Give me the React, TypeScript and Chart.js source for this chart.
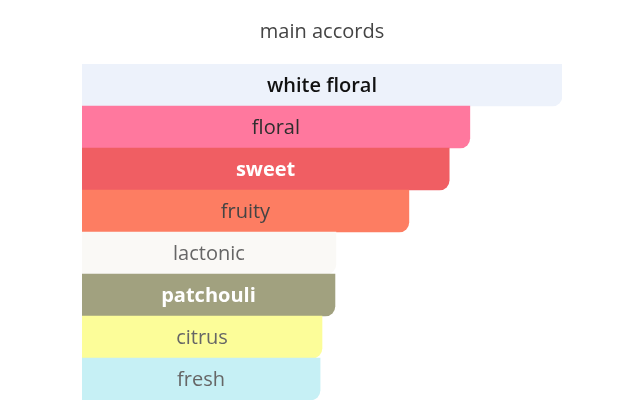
import { useEffect, useRef } from 'react';
import { Chart, registerables, Plugin } from 'chart.js';

Chart.register(...registerables);

const accords = ['white floral', 'floral', 'sweet', 'fruity', 'lactonic', 'patchouli', 'citrus', 'fresh'];
const strengths = [100, 80.8, 76.5, 68.1, 52.9, 52.7, 50.0, 49.6];

const barColors = ['#EDF2FB', '#FF789E', '#F05E63', '#FD7D62', '#FAF9F6', '#A1A17F', '#FCFD99', '#C6F0F5'];
const labelColors = ['#111111', '#2e2e2e', '#ffffff', '#444444', '#666666', '#ffffff', '#666666', '#666666'];
const labelWeights = ['600', '500', '700', '500', '500', '700', '500', '500'];

const FONT = '"Open Sans", "Noto Sans", sans-serif';

const barLabels: Plugin<'bar'> = {
  id: 'barLabels',
  afterDatasetsDraw(chart) {
    const { ctx } = chart;
    const meta = chart.getDatasetMeta(0);
    ctx.save();
    ctx.textAlign = 'center';
    ctx.textBaseline = 'middle';
    meta.data.forEach((el: any, i) => {
      const { x, y, base } = el.getProps(['x', 'y', 'base'], true);
      ctx.font = `${labelWeights[i]} 20px ${FONT}`;
      ctx.fillStyle = labelColors[i];
      ctx.fillText(accords[i], (x + base) / 2, y + 1);
    });
    ctx.restore();
  },
};

export default function App() {
  const canvasRef = useRef<HTMLCanvasElement>(null);

  useEffect(() => {
    if (!canvasRef.current) return;
    const chart = new Chart(canvasRef.current, {
      type: 'bar',
      data: {
        labels: accords,
        datasets: [
          {
            data: strengths,
            backgroundColor: barColors,
            borderWidth: 0,
            borderRadius: { topLeft: 0, topRight: 0, bottomLeft: 0, bottomRight: 10 },
            borderSkipped: false,
            barPercentage: 1,
            categoryPercentage: 1,
          },
        ],
      },
      options: {
        indexAxis: 'y',
        responsive: true,
        maintainAspectRatio: false,
        animation: false,
        layout: { padding: { left: 74, right: 67, top: 0, bottom: 20 } },
        scales: {
          x: { display: false, min: 0, max: 100 },
          y: { display: false },
        },
        plugins: {
          legend: { display: false },
          tooltip: { enabled: false },
          title: {
            display: true,
            text: 'main accords',
            color: '#444444',
            font: { family: FONT, size: 20, weight: 'normal' },
            padding: { top: 12, bottom: 20 },
          },
        },
      },
      plugins: [barLabels],
    });
    return () => chart.destroy();
  }, []);

  return (
    <div style={{ width: 621, height: 412 }}>
      <canvas ref={canvasRef} />
    </div>
  );
}
